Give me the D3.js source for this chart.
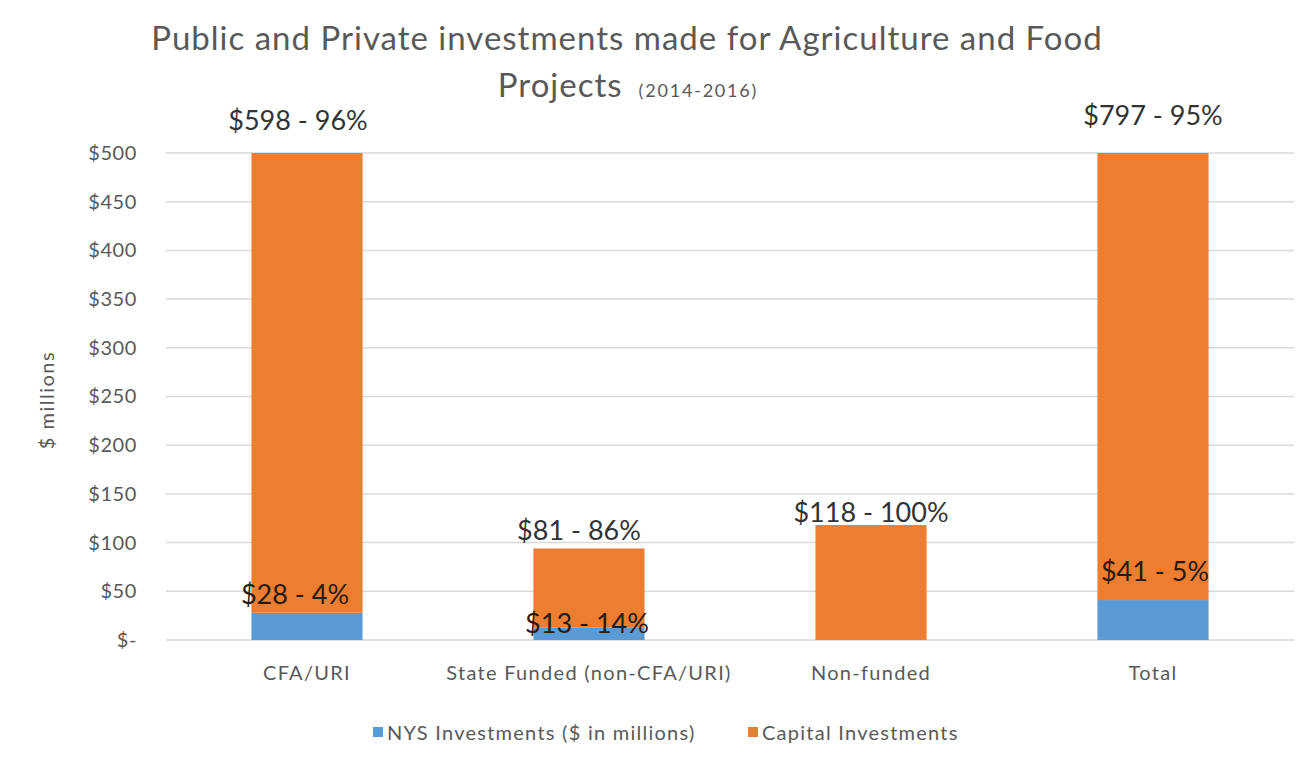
<!DOCTYPE html>
<html>
<head>
<meta charset="utf-8">
<script src="https://cdn.jsdelivr.net/npm/d3@7"></script>
<style>
  html, body { margin: 0; padding: 0; background: #ffffff; }
  svg { display: block; font-family: Lato, "Open Sans", sans-serif; }
</style>
</head>
<body>
<svg id="chart" width="1301" height="759"></svg>
<script>
// ---- data ----
const categories = ["CFA/URI", "State Funded (non-CFA/URI)", "Non-funded", "Total"];
const nysInvestments = [28, 13, 0, 41];
const capitalInvestments = [598, 81, 118, 797];
const nysLabels = ["$28 - 4%", "$13 - 14%", "", "$41 - 5%"];
const capitalLabels = ["$598 - 96%", "$81 - 86%", "$118 - 100%", "$797 - 95%"];
const yTicks = [0, 50, 100, 150, 200, 250, 300, 350, 400, 450, 500];
const seriesNames = ["NYS Investments ($ in millions)", "Capital Investments"];
const seriesColors = ["#5B9BD5", "#ED7D31"];

// ---- layout ----
const W = 1301, H = 759;
const plot = { left: 166, right: 1294, top: 153, bottom: 640 };
const svg = d3.select("#chart");

const x = d3.scaleBand().domain(categories)
  .range([plot.left, plot.right]).paddingInner(0.606).paddingOuter(0.303);
const y = d3.scaleLinear().domain([0, 500]).range([plot.bottom, plot.top]).clamp(true);

// gridlines
svg.append("g").selectAll("line").data(yTicks).join("line")
  .attr("x1", plot.left).attr("x2", plot.right)
  .attr("y1", d => y(d)).attr("y2", d => y(d))
  .attr("stroke", "#D9D9D9").attr("stroke-width", 1.5);

// y axis labels
const yAxis = d3.axisLeft(y).tickValues(yTicks).tickSize(0).tickPadding(0)
  .tickFormat(d => d === 0 ? "$-" : "$" + d);
const gy = svg.append("g").attr("transform", `translate(137,0)`).call(yAxis);
gy.select(".domain").remove();
gy.selectAll("text").attr("font-size", 20).attr("fill", "#595959")
  .attr("letter-spacing", 0.6).attr("font-family", "Lato, sans-serif");

// x axis labels
const xAxis = d3.axisBottom(x).tickSize(0).tickPadding(0);
const gx = svg.append("g").attr("transform", `translate(0,${plot.bottom + 26})`).call(xAxis);
gx.select(".domain").remove();
gx.selectAll("text").attr("font-size", 20).attr("fill", "#595959")
  .attr("letter-spacing", 1.3).attr("font-family", "Lato, sans-serif");

// stacked data
const rows = categories.map((c, i) => ({ cat: c, nys: nysInvestments[i], cap: capitalInvestments[i] }));
const stack = d3.stack().keys(["nys", "cap"])(rows);

svg.append("g").selectAll("g").data(stack).join("g")
  .attr("fill", (d, i) => seriesColors[i])
  .selectAll("rect").data(d => d).join("rect")
  .attr("x", d => x(d.data.cat))
  .attr("width", x.bandwidth())
  .attr("y", d => y(d[1]))
  .attr("height", d => y(d[0]) - y(d[1]));

// capital labels (outside end)
const capNudgeY = [-23, -8, -3, -28];
const capNudgeX = [-9, -10, 0, 0];
svg.append("g").selectAll("text").data(rows).join("text")
  .attr("x", (d, i) => x(d.cat) + x.bandwidth() / 2 + capNudgeX[i])
  .attr("y", (d, i) => y(d.nys + d.cap) + capNudgeY[i])
  .attr("text-anchor", "middle")
  .attr("font-size", 27).attr("fill", "#333333")
  .text((d, i) => capitalLabels[i]);

// nys labels (manually placed inside)
const nysNudgeY = [-9, 6, 0, -19];
const nysNudgeX = [-12, -2, 0, 2];
svg.append("g").selectAll("text").data(rows).join("text")
  .attr("x", (d, i) => x(d.cat) + x.bandwidth() / 2 + nysNudgeX[i])
  .attr("y", (d, i) => y(d.nys) + nysNudgeY[i])
  .attr("text-anchor", "middle")
  .attr("font-size", 27).attr("fill", "#2a1a10")
  .text((d, i) => nysLabels[i]);

// y axis title
svg.append("text")
  .attr("transform", "translate(54,400) rotate(-90)")
  .attr("text-anchor", "middle").attr("font-size", 20).attr("fill", "#595959")
  .attr("letter-spacing", 1.5)
  .text("$ millions");

// title
svg.append("text").attr("x", 627).attr("y", 50).attr("text-anchor", "middle")
  .attr("font-size", 33).attr("letter-spacing", 1).attr("fill", "#595959")
  .text("Public and Private investments made for Agriculture and Food");
const t2 = svg.append("text").attr("x", 628).attr("y", 97).attr("text-anchor", "middle")
  .attr("fill", "#595959").attr("letter-spacing", 1);
t2.append("tspan").attr("font-size", 33).text("Projects");
t2.append("tspan").attr("font-size", 18).attr("dx", 16).attr("letter-spacing", 1.8).text("(2014-2016)");

// legend
const legendX = [373, 748];
const lg = svg.append("g").selectAll("g").data(seriesNames).join("g")
  .attr("transform", (d, i) => `translate(${legendX[i]},727)`);
lg.append("rect").attr("width", 10).attr("height", 10).attr("fill", (d, i) => seriesColors[i]);
lg.append("text").attr("x", 14).attr("y", 13).attr("font-size", 20).attr("letter-spacing", 1.25)
  .attr("fill", "#595959").text(d => d);
</script>
</body>
</html>
